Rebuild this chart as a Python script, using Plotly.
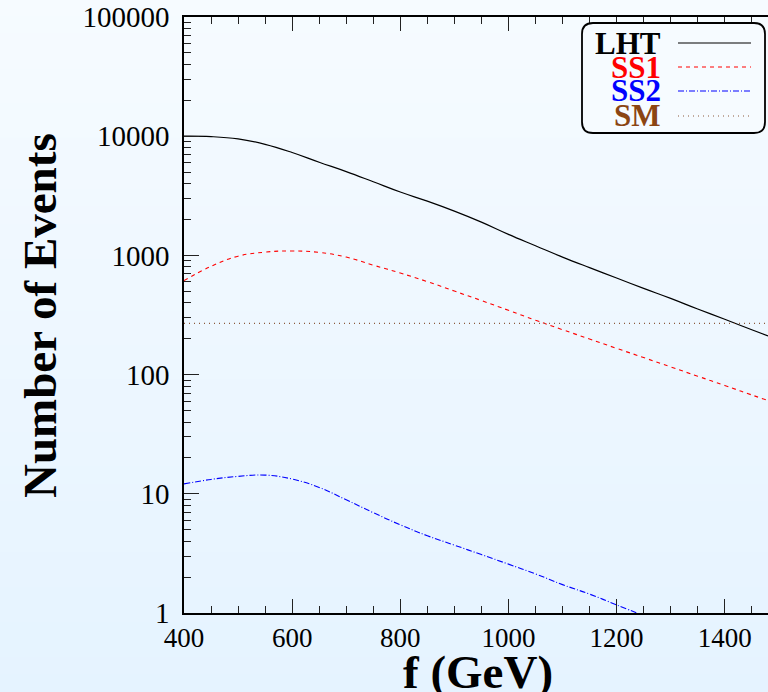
import plotly.graph_objects as go

# ---------------- data ----------------
f_vals = [400, 450, 500, 550, 600, 650, 700, 750, 800, 850, 900, 950, 1000,
          1050, 1100, 1150, 1200, 1250, 1300, 1350, 1400, 1450, 1480]
lht = [10000, 9920, 9500, 8550, 7300, 6050, 5050, 4150, 3400, 2850, 2350, 1900, 1500,
       1205, 968, 789, 646, 529, 436, 355, 291, 238, 211]
ss1 = [614, 810, 985, 1065, 1090, 1060, 968, 828, 711, 603, 502, 418, 346,
       286, 238, 199, 166, 139, 116, 97, 81, 67.5, 60.6]
ss2_f = [400, 450, 500, 550, 600, 650, 700, 750, 800, 850, 900, 950, 1000,
         1050, 1100, 1150, 1200, 1250]
ss2 = [12.1, 13.2, 14.0, 14.35, 13.3, 11.3, 8.9, 6.95, 5.49, 4.45, 3.71, 3.09, 2.57,
       2.13, 1.73, 1.44, 1.17, 0.95]
sm_f = [400, 1480]
sm = [269, 269]

x_ticks = [400, 600, 800, 1000, 1200, 1400]
y_ticks = [1, 10, 100, 1000, 10000, 100000]
y_ticktext = ["1", "10", "100", "1000", "10000", "100000"]
legend_names = ["LHT", "SS1", "SS2", "SM"]
legend_colors = ["#000000", "#ff0000", "#0000ff", "#8b4513"]
legend_dash = ["solid", "4px,4px", "6px,2px,1px,2px", "1px,4px"]

FONT = "Liberation Serif"

# ---------------- layout geometry (pixels) ----------------
W, H = 768, 692
L, R, T, B = 184, 0, 17, 79
PW, PH = W - L - R, H - T - B


def px(xp):
    return (xp - L) / PW


def py(yp):
    return (H - B - yp) / PH


fig = go.Figure()

fig.add_trace(go.Scatter(x=f_vals, y=lht, mode="lines", name="LHT",
                         line=dict(color=legend_colors[0], width=1.2, shape="spline", smoothing=1.2),
                         showlegend=False))
fig.add_trace(go.Scatter(x=f_vals, y=ss1, mode="lines", name="SS1",
                         line=dict(color=legend_colors[1], width=1.1, dash=legend_dash[1],
                                   shape="spline", smoothing=1.2),
                         showlegend=False))
fig.add_trace(go.Scatter(x=ss2_f, y=ss2, mode="lines", name="SS2",
                         line=dict(color=legend_colors[2], width=1.1, dash=legend_dash[2],
                                   shape="spline", smoothing=1.2),
                         showlegend=False))
fig.add_trace(go.Scatter(x=sm_f, y=sm, mode="lines", name="SM",
                         line=dict(color="#8b5a3c", width=1.2, dash=legend_dash[3]),
                         showlegend=False))

shapes = []
# background gradient
N = 40
top_c = (246, 251, 255)
bot_c = (229, 243, 255)
for i in range(N):
    t = (i + 0.5) / N
    c = tuple(round(top_c[k] + (bot_c[k] - top_c[k]) * t) for k in range(3))
    shapes.append(dict(type="rect", xref="paper", yref="paper",
                       x0=px(-5), x1=px(W + 5), y0=py(i * H / N - 1),
                       y1=py((i + 1) * H / N + 1),
                       fillcolor="rgb(%d,%d,%d)" % c, line=dict(width=0), layer="below"))

# legend box (rounded)
bx0, bx1, by0, by1, r = 582, 765, 23, 133, 11
X0, X1, Y0, Y1 = px(bx0), px(bx1), py(by0), py(by1)
rx, ry = r / PW, r / PH
path = (f"M {X0+rx},{Y0} L {X1-rx},{Y0} Q {X1},{Y0} {X1},{Y0-ry} "
        f"L {X1},{Y1+ry} Q {X1},{Y1} {X1-rx},{Y1} L {X0+rx},{Y1} "
        f"Q {X0},{Y1} {X0},{Y1+ry} L {X0},{Y0-ry} Q {X0},{Y0} {X0+rx},{Y0} Z")
shapes.append(dict(type="path", xref="paper", yref="paper", path=path,
                   fillcolor="#f6fbff", line=dict(color="black", width=1.8), layer="above"))

annotations = []
rows_y = [43, 67, 91, 116]
for name, col, dash, yy in zip(legend_names, legend_colors, legend_dash, rows_y):
    annotations.append(dict(x=px(663), y=py(yy), xref="paper", yref="paper",
                            text="<b>%s</b>" % name, showarrow=False,
                            xanchor="right", yanchor="middle",
                            font=dict(family=FONT, size=31, color=col)))
    lc = "#8b5a3c" if name == "SM" else col
    shapes.append(dict(type="line", xref="paper", yref="paper",
                       x0=px(678), x1=px(751), y0=py(yy), y1=py(yy),
                       line=dict(color=lc, width=1.1, dash=dash), layer="above"))

# axis titles
annotations.append(dict(x=px(478), y=py(672), xref="paper", yref="paper",
                        text="<b>f (GeV)</b>", showarrow=False,
                        xanchor="center", yanchor="middle",
                        font=dict(family=FONT, size=47, color="black")))
annotations.append(dict(x=px(40), y=py(316), xref="paper", yref="paper",
                        text="<b>Number of Events</b>", showarrow=False, textangle=-90,
                        xanchor="center", yanchor="middle",
                        font=dict(family=FONT, size=47, color="black")))

fig.update_layout(
    width=W, height=H,
    margin=dict(l=L, r=R, t=T, b=B),
    paper_bgcolor="#eef7ff",
    plot_bgcolor="rgba(0,0,0,0)",
    showlegend=False,
    shapes=shapes,
    annotations=annotations,
    xaxis=dict(range=[400, 1480], tickmode="array", tickvals=x_ticks, ticks="inside",
               ticklen=14, tickwidth=1.2, tickcolor="#222222",
               showline=True, linecolor="black", linewidth=1.5,
               mirror="ticks", showgrid=False, zeroline=False,
               tickfont=dict(family=FONT, size=27, color="black"),
               ticklabelstandoff=0,
               minor=dict(dtick=50, ticks="inside", ticklen=7, tickwidth=1.2, tickcolor="#222222")),
    yaxis=dict(type="log", range=[0, 5], tickmode="array", tickvals=y_ticks, ticktext=y_ticktext,
               ticks="inside", ticklen=15, tickwidth=1.2, tickcolor="#222222",
               showline=True, linecolor="black", linewidth=1.5,
               showgrid=False, zeroline=False,
               tickfont=dict(family=FONT, size=29, color="black"),
               ticklabelstandoff=7,
               minor=dict(dtick="D1", ticks="inside", ticklen=7, tickwidth=1.2, tickcolor="#222222")),
)

fig.write_html("out.html")
